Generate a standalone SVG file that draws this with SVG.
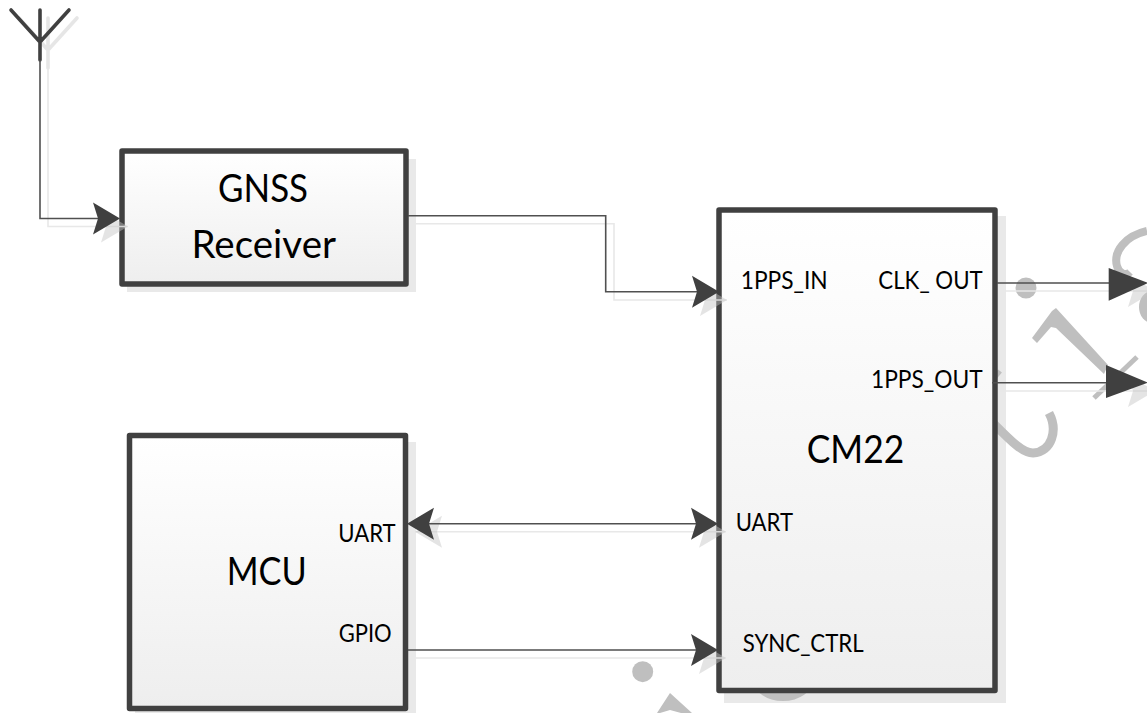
<svg xmlns="http://www.w3.org/2000/svg" width="1147" height="713" viewBox="0 0 1147 713">
<style>
.box{fill:url(#g);stroke:#404040;stroke-width:5.5;stroke-linejoin:round}
.bs{fill:#e9e9e9}
.big{font:39px Lato,"Liberation Sans",sans-serif;fill:#000}
.sm{font:24.5px Lato,"Liberation Sans",sans-serif;fill:#000}
.w{fill:none;stroke:#bfbfbf;stroke-width:8}
.wf{fill:#bfbfbf}
.l{fill:none;stroke:#505050;stroke-width:1.6}
.ls{fill:none;stroke:#e8e8e8;stroke-width:1.6}
.a{fill:#404040}
.as{fill:#c4c4c4;fill-opacity:.45}
.ant{fill:none;stroke:#404040;stroke-width:3.6;stroke-linecap:round}
.ants{fill:none;stroke:#e6e6e6;stroke-width:3.6;stroke-linecap:round}
</style>
<defs>
<linearGradient id="g" x1="0" y1="0" x2="0" y2="1"><stop offset="0" stop-color="#fff"/><stop offset="1" stop-color="#eee"/></linearGradient>
<path id="ar" d="M-27-16L0 0L-27 16L-22 0Z"/>
</defs>
<rect width="1147" height="713" fill="#fff"/>
<g id="box-shadows">
<rect class="bs" x="127" y="159" width="289" height="133"/>
<rect class="bs" x="724" y="216" width="282" height="487"/>
<rect class="bs" x="135" y="442" width="281" height="276"/>
</g>
<g id="marks">
<circle class="wf" cx="1026" cy="288" r="10.5"/>
<circle class="wf" cx="642.700" cy="671.700" r="10.5"/>
<path class="w" d="M1147 231C1125 236 1113 252 1117 266C1119 274 1126 276 1130 272"/>
<ellipse class="wf" cx="1152" cy="307" rx="13" ry="16"/>
<polygon class="wf" points="1032,338 1052,311 1056,308 1108,365 1104,374 1056,328 1051,327 1037,343"/>
<path class="w" style="stroke-width:5" d="M1094 398L1137 357"/>
<path class="w" style="stroke-width:9" d="M1049 413C1058 430 1052 452 1033 453C1022 453 1010 440 990 420"/>
<path class="w" style="stroke-width:5" d="M1000 371L995 377"/>
<polygon class="wf" points="670,693 692,713 681,713 670,710 660,713 657,713"/>
<ellipse class="wf" cx="783" cy="680" rx="30" ry="21"/>
</g>
<g id="gnss"><rect class="box" x="122" y="151" width="284" height="133"/>
<text class="big" x="218" y="201.500" textLength="90" lengthAdjust="spacingAndGlyphs">GNSS</text>
<text class="big" x="191.500" y="258" textLength="144.500" lengthAdjust="spacingAndGlyphs">Receiver</text></g>
<g id="cm22"><rect class="box" x="719" y="210" width="276" height="480.500"/>
<text class="big" x="806.700" y="462.700" textLength="97.500" lengthAdjust="spacingAndGlyphs">CM22</text>
<text class="sm" x="740.700" y="289" textLength="87" lengthAdjust="spacingAndGlyphs">1PPS_IN</text>
<text class="sm" x="878.300" y="289" textLength="104.400" lengthAdjust="spacingAndGlyphs">CLK_ OUT</text>
<text class="sm" x="871" y="387.700" textLength="111.700" lengthAdjust="spacingAndGlyphs">1PPS_OUT</text>
<text class="sm" x="735.700" y="531" textLength="57.300" lengthAdjust="spacingAndGlyphs">UART</text>
<text class="sm" x="742.700" y="652.300" textLength="121" lengthAdjust="spacingAndGlyphs">SYNC_CTRL</text></g>
<g id="mcu"><rect class="box" x="129.500" y="435.500" width="276" height="273"/>
<text class="big" x="226.700" y="585" textLength="80" lengthAdjust="spacingAndGlyphs">MCU</text>
<text class="sm" x="338.300" y="541.700" textLength="57.400" lengthAdjust="spacingAndGlyphs">UART</text>
<text class="sm" x="338.700" y="641.700" textLength="53" lengthAdjust="spacingAndGlyphs">GPIO</text></g>
<g id="antenna">
<path class="ants" d="M48 18V68M19 18L48 50L77 18"/>
<path class="ant" d="M40 10V60M11 10L40 42L69 10"/>
</g>
<g id="connectors">
<path class="ls" d="M48 68V226.500H128M416 223.700H614V300H727M1005 291H1155M1000 391H1155M415 531.700H726M416 658H726"/>
<use href="#ar" class="as" transform="translate(128,226.500)"/>
<use href="#ar" class="as" transform="translate(727,300)"/>
<use href="#ar" class="as" transform="translate(1155,291)"/>
<use href="#ar" class="as" transform="translate(1155,391)"/>
<use href="#ar" class="as" transform="translate(415,531.700) rotate(180)"/>
<use href="#ar" class="as" transform="translate(726,531.700)"/>
<use href="#ar" class="as" transform="translate(726,658)"/>
<path class="l" d="M40 60V218.500H110M408 215.700H605.700V291.700H705M997 283H1120M992 382.700H1120M420 523.700H705M408 650H705"/>
<use href="#ar" class="a" transform="translate(120,218.500)"/>
<use href="#ar" class="a" transform="translate(719,291.700)"/>
<path class="a" d="M1108.700 268L1148 283L1108.700 300.700Z"/>
<path class="a" d="M1106 365L1148 382.700L1106 398Z"/>
<use href="#ar" class="a" transform="translate(407,523.700) rotate(180)"/>
<use href="#ar" class="a" transform="translate(718,523.700)"/>
<use href="#ar" class="a" transform="translate(718,650)"/>
</g>
</svg>
